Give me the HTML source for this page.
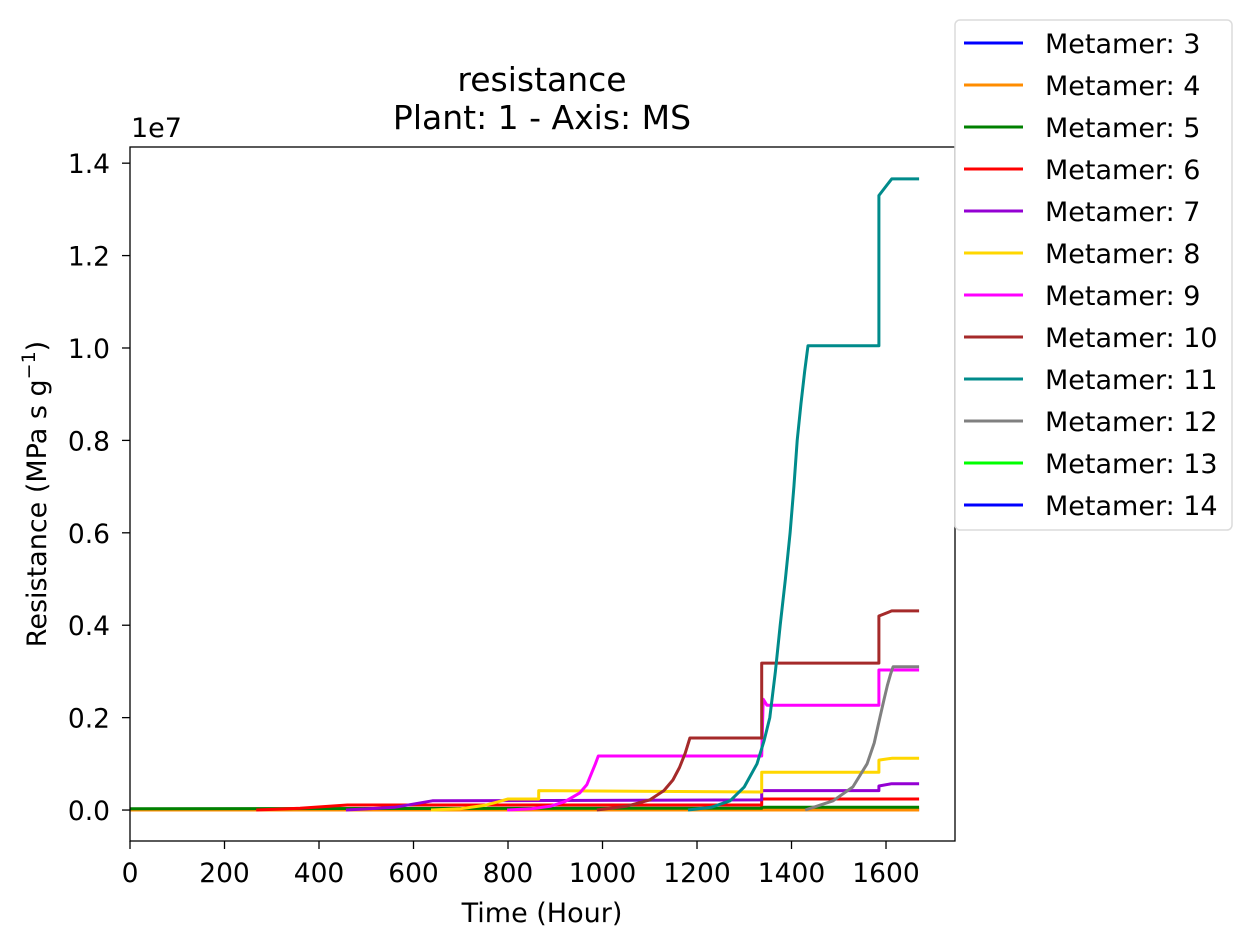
<!DOCTYPE html>
<html><head><meta charset="utf-8"><style>
body{margin:0;background:#fff;}
svg{display:block;font-family:"DejaVu Sans","Liberation Sans",sans-serif;}
</style></head><body>
<svg id="chart" width="1252" height="948" viewBox="0 0 1252 948" xmlns="http://www.w3.org/2000/svg">
<rect width="1252" height="948" fill="#fff"/>
<text x="542" y="91" font-size="33" text-anchor="middle">resistance</text>
<text x="542" y="129" font-size="33" text-anchor="middle">Plant: 1 - Axis: MS</text>
<text x="131" y="137" font-size="27">1e7</text>
<g id="plot"></g>
<g id="axes"></g>
<text x="542" y="922" font-size="27" text-anchor="middle">Time (Hour)</text>
<text transform="translate(46,494) rotate(-90)" font-size="27" text-anchor="middle">Resistance (MPa s g<tspan font-size="19" dy="-11">−1</tspan><tspan dy="11">)</tspan></text>
<g id="legend"></g>
</svg>
<script>
const xTicks=[0,200,400,600,800,1000,1200,1400,1600];
const yTicks=[0,0.2,0.4,0.6,0.8,1.0,1.2,1.4];
const yTickLabels=["0.0","0.2","0.4","0.6","0.8","1.0","1.2","1.4"];
const seriesNames=["Metamer: 3","Metamer: 4","Metamer: 5","Metamer: 6","Metamer: 7","Metamer: 8","Metamer: 9","Metamer: 10","Metamer: 11","Metamer: 12","Metamer: 13","Metamer: 14"];
const seriesColors=["#0000ff","#ff8c00","#008000","#ff0000","#9400d3","#ffd700","#ff00ff","#a52a2a","#008b8b","#808080","#00ff00","#0000ff"];
const m3T=[0,1670], m3V=[0.0005,0.0005];
const m4T=[0,1670], m4V=[0,0];
const m5T=[0,1337,1337,1670], m5V=[0.003,0.004,0.006,0.006];
const m6T=[267,360,460,1337,1337,1670], m6V=[0,0.004,0.011,0.011,0.024,0.024];
const m7T=[457,560,640,1337,1337,1585,1585,1612,1670], m7V=[0,0.006,0.02,0.022,0.042,0.042,0.052,0.057,0.057];
const m8T=[637,700,750,780,800,865,865,1337,1337,1585,1585,1612,1670], m8V=[0,0.003,0.01,0.018,0.024,0.024,0.042,0.039,0.082,0.082,0.108,0.112,0.112];
const m9T=[798,850,889,920,952,967,977,985,991,1337,1340,1348,1585,1585,1670], m9V=[0,0.003,0.008,0.018,0.037,0.055,0.08,0.1,0.117,0.117,0.24,0.227,0.227,0.303,0.303];
const m10T=[988,1050,1100,1130,1149,1163,1175,1185,1337,1337,1585,1585,1612,1670], m10V=[0,0.008,0.022,0.042,0.065,0.092,0.123,0.156,0.156,0.318,0.318,0.42,0.431,0.431];
const m11T=[1181,1230,1270,1300,1327,1342,1354,1366,1376,1387,1397,1405,1412,1420,1428,1435,1585,1585,1612,1670], m11V=[0,0.006,0.02,0.05,0.1,0.15,0.2,0.3,0.4,0.5,0.6,0.7,0.8,0.88,0.95,1.005,1.005,1.33,1.366,1.366];
const m12T=[1429,1488,1530,1560,1575,1587,1596,1603,1610,1615,1670], m12V=[0,0.02,0.05,0.1,0.145,0.2,0.24,0.27,0.295,0.31,0.31];
const seriesT=[m3T,m4T,m5T,m6T,m7T,m8T,m9T,m10T,m11T,m12T];
const seriesV=[m3V,m4V,m5V,m6V,m7V,m8V,m9V,m10V,m11V,m12V];

const NS="http://www.w3.org/2000/svg";
const L=130,R=955,T=147,B=841;
const xMin=0,xMax=1746,yMin=-0.067,yMax=1.435;
const sx=v=>L+(v-xMin)/(xMax-xMin)*(R-L);
const sy=v=>B-(v-yMin)/(yMax-yMin)*(B-T);
function mk(tag,attrs,parent){const e=document.createElementNS(NS,tag);for(const k in attrs)e.setAttribute(k,attrs[k]);parent.appendChild(e);return e;}
const plot=document.getElementById('plot'),axes=document.getElementById('axes'),legend=document.getElementById('legend');
for(let i=0;i<seriesT.length;i++){
  const pts=seriesT[i].map((t,j)=>sx(t).toFixed(1)+','+sy(seriesV[i][j]).toFixed(1)).join(' ');
  const pl=mk('polyline',{points:pts,fill:'none',stroke:seriesColors[i],'stroke-width':3,'stroke-linejoin':'round'},plot);
  
  
}
const frame=mk('rect',{x:L,y:T,width:R-L,height:B-T,fill:'none',stroke:'#000','stroke-width':1.3},axes);


xTicks.forEach(v=>{
  const x=sx(v);
  const tk=mk('line',{x1:x,x2:x,y1:B,y2:B+8,stroke:'#000','stroke-width':1.3},axes);
  
  
  const tx=mk('text',{x:x,y:B+41,'font-size':26.5,'text-anchor':'middle'},axes);tx.textContent=v;
  
  
});
yTicks.forEach((v,i)=>{
  const y=sy(v);
  const tk=mk('line',{x1:L-8,x2:L,y1:y,y2:y,stroke:'#000','stroke-width':1.3},axes);
  
  
  const tx=mk('text',{x:L-20,y:y+10,'font-size':26.5,'text-anchor':'end'},axes);tx.textContent=yTickLabels[i];
  
  
});
const lb=mk('rect',{x:955,y:20,width:277,height:510,rx:5,fill:'#fff',stroke:'#dcdcdc','stroke-width':1.5},legend);


seriesNames.forEach((n,i)=>{
  const y=43+i*42;
  const g=mk('g',{},legend);
  
  
  mk('line',{x1:964,x2:1023,y1:y,y2:y,stroke:seriesColors[i],'stroke-width':3},g);
  const t=mk('text',{x:1045,y:y+10,'font-size':27},g);t.textContent=n;
});
</script>
</body></html>
